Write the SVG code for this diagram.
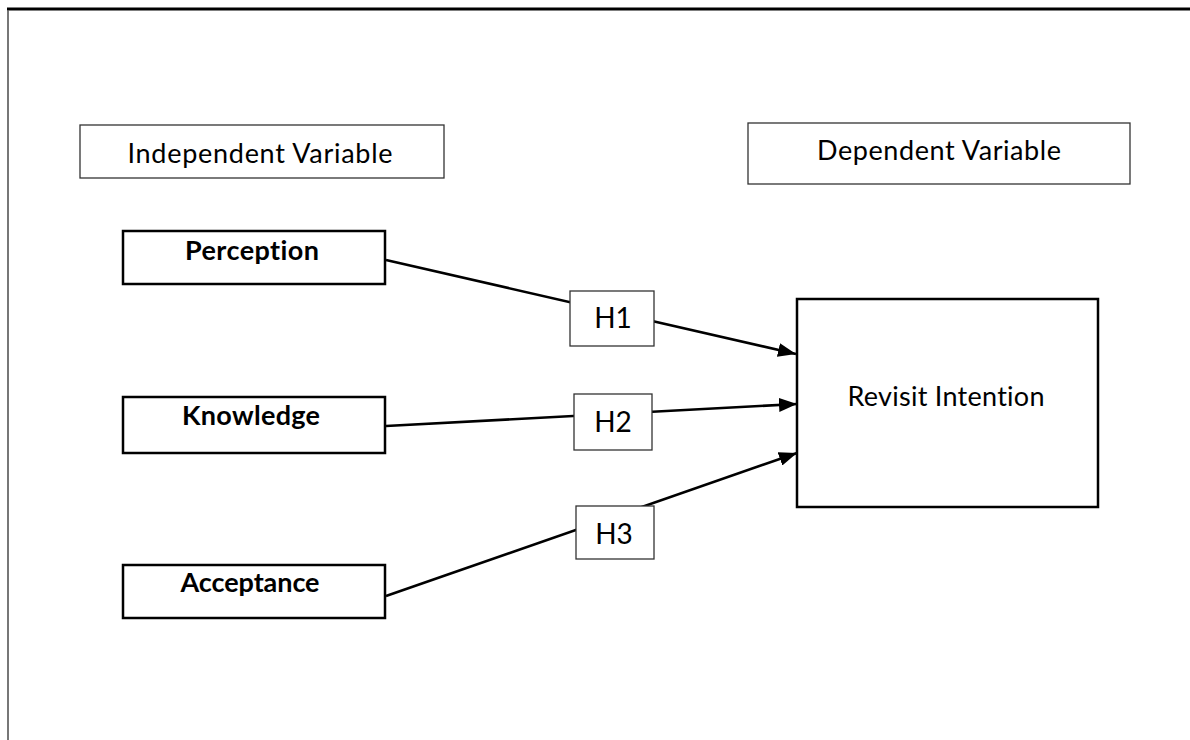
<svg xmlns="http://www.w3.org/2000/svg" width="1190" height="740" viewBox="0 0 1190 740">
<style>
.thin{fill:#fff;stroke:#333;stroke-width:1.3}
.thick{fill:#fff;stroke:#000;stroke-width:2.5}
text{font-variant-ligatures:none;font-family:Lato,"Open Sans",sans-serif;fill:#000}
.t{font-size:27px}
.b{font-size:27px;font-weight:bold}
.h{font-size:28px}
.c{stroke:#000;stroke-width:2.6;fill:none}
</style>
<defs>
<marker id="ah" viewBox="0 0 18 14" refX="18" refY="7" markerWidth="18" markerHeight="14" markerUnits="userSpaceOnUse" orient="auto">
<path d="M0,0 L18,7 L0,14 z" fill="#000"/>
</marker>
</defs>
<rect x="0" y="0" width="1190" height="740" fill="#fff"/>
<g id="frame">
<line x1="7" y1="9" x2="1190" y2="9" stroke="#000" stroke-width="3"/>
<line x1="8" y1="10" x2="8" y2="740" stroke="#555" stroke-width="1.6"/>
</g>
<g id="connectors">
<line class="c" x1="386" y1="260" x2="796" y2="354" marker-end="url(#ah)"/>
<line class="c" x1="386" y1="426" x2="797" y2="404" marker-end="url(#ah)"/>
<line class="c" x1="386" y1="596" x2="797" y2="453" marker-end="url(#ah)"/>
</g>
<g id="independent-variable">
<rect class="thin" x="80" y="125" width="364" height="53"/>
<text class="t" x="260" y="163" text-anchor="middle" textLength="265">Independent Variable</text>
</g>
<g id="dependent-variable">
<rect class="thin" x="748" y="123" width="382" height="61"/>
<text class="t" x="939" y="160" text-anchor="middle" textLength="244">Dependent Variable</text>
</g>
<g id="perception">
<rect class="thick" x="123" y="231" width="262" height="53"/>
<text class="b" x="252" y="260" text-anchor="middle" textLength="134">Perception</text>
</g>
<g id="knowledge">
<rect class="thick" x="123" y="397" width="262" height="56"/>
<text class="b" x="251" y="425" text-anchor="middle" textLength="138">Knowledge</text>
</g>
<g id="acceptance">
<rect class="thick" x="123" y="565" width="262" height="53"/>
<text class="b" x="250" y="592" text-anchor="middle" textLength="139">Acceptance</text>
</g>
<g id="revisit-intention">
<rect class="thick" x="797" y="299" width="301" height="208"/>
<text class="t" x="946" y="406" text-anchor="middle" textLength="197">Revisit Intention</text>
</g>
<g id="h1">
<rect class="thin" x="570" y="291" width="84" height="55"/>
<text class="h" x="613" y="328" text-anchor="middle">H1</text>
</g>
<g id="h2">
<rect class="thin" x="574" y="394" width="78" height="56"/>
<text class="h" x="613" y="432" text-anchor="middle">H2</text>
</g>
<g id="h3">
<rect class="thin" x="576" y="506" width="78" height="53"/>
<text class="h" x="614" y="544" text-anchor="middle">H3</text>
</g>
</svg>
